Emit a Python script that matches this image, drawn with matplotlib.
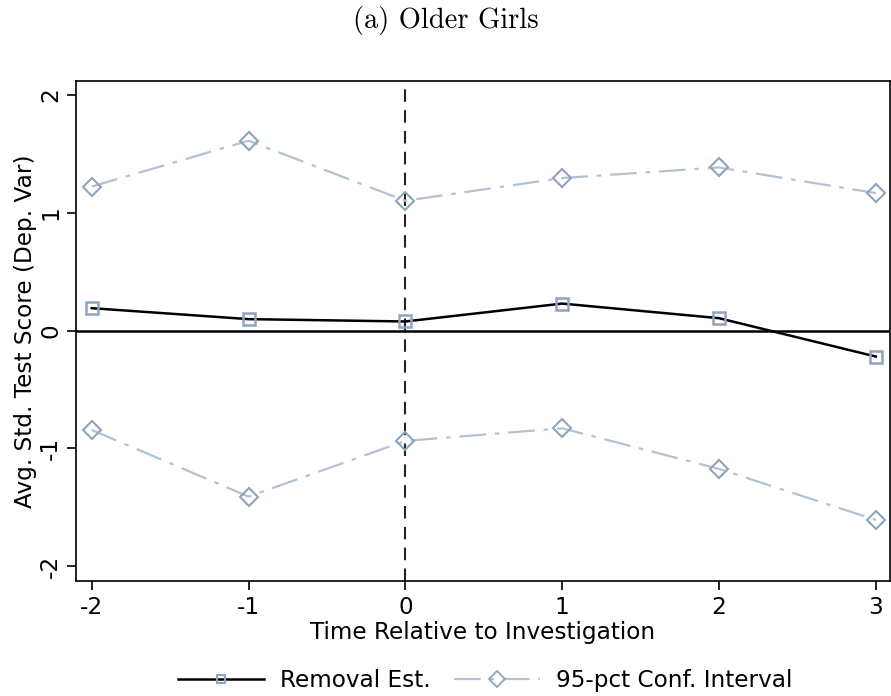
import matplotlib
matplotlib.use("Agg")
import matplotlib.pyplot as plt
from matplotlib.lines import Line2D

periods = [-2, -1, 0, 1, 2, 3]
estimate = [0.19, 0.097, 0.077, 0.229, 0.105, -0.221]
ci_upper = [1.223, 1.612, 1.102, 1.295, 1.385, 1.167]
ci_lower = [-0.844, -1.41, -0.937, -0.83, -1.175, -1.608]
yticks = [-2, -1, 0, 1, 2]

ci_color = "#B3C2D3"
mk_color = "#8FA4BE"
FS = 16.7

fig = plt.figure(figsize=(8.91, 6.96), dpi=100)
ax = fig.add_axes([0.0853, 0.1652, 0.9135, 0.7184])

ci_style = dict(color=ci_color, lw=1.6, dashes=(12, 4, 2, 4), marker="D",
                markersize=9, markerfacecolor="none", markeredgecolor=mk_color,
                markeredgewidth=1.5)
ax.plot(periods, ci_upper, **ci_style)
ax.plot(periods, ci_lower, **ci_style)
ax.plot(periods, estimate, color="black", lw=1.8, marker="s", markersize=8.5,
        markerfacecolor="none", markeredgecolor=mk_color, markeredgewidth=1.8)

ax.axhline(0, color="black", lw=1.8, zorder=1)
ax.axvline(0, color="#222222", lw=1.5, dashes=(6, 4), zorder=1)

ax.set_xlim(-2.10, 3.09)
ax.set_ylim(-2.127, 2.119)
ax.set_xticks(periods)
ax.set_xticklabels([str(p) for p in periods])
ax.set_yticks(yticks)
ax.set_yticklabels([str(t) for t in yticks], rotation=90, va="center")
ax.tick_params(axis="both", labelsize=FS, length=6.5, width=1.2, colors="black")
ax.tick_params(axis="y", pad=3.5)
ax.tick_params(axis="x", pad=4)
for s in ax.spines.values():
    s.set_linewidth(1.2)

ax.set_xlabel("Time Relative to Investigation", fontsize=FS, labelpad=2)
ax.set_ylabel("Avg. Std. Test Score (Dep. Var)", fontsize=FS)
ax.yaxis.set_label_coords(-0.048, 0.5)

fig.text(0.5, 0.970, "(a) Older Girls", ha="center", va="center",
         fontsize=20.5, family="cmr10")

handles = [
    Line2D([], [], color="black", lw=1.8, marker="s", markersize=6,
           markerfacecolor="none", markeredgecolor=mk_color, markeredgewidth=1.5),
    Line2D([], [], color=ci_color, lw=1.6, dashes=(12, 4, 2, 4), marker="D",
           markersize=8, markerfacecolor="none", markeredgecolor=mk_color,
           markeredgewidth=1.3),
]
fig.legend(handles, ["Removal Est.", "95-pct Conf. Interval"], loc="center",
           bbox_to_anchor=(0.545, 0.022), ncol=2, frameon=False, fontsize=FS,
           handlelength=3.7, handletextpad=0.7, columnspacing=1.0)

fig.savefig("out.png", dpi=100)
